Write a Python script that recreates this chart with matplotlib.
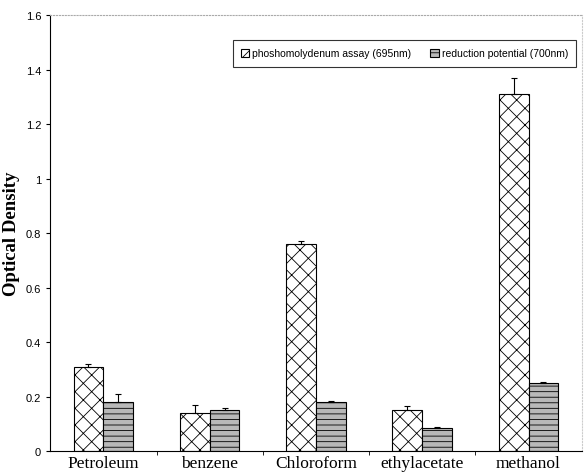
import matplotlib.pyplot as plt
import numpy as np

plt.rcParams['hatch.linewidth'] = 0.6

solvents = ['Petroleum', 'benzene', 'Chloroform', 'ethylacetate', 'methanol']
phospho = [0.31, 0.14, 0.76, 0.15, 1.31]
phospho_err = [0.01, 0.03, 0.01, 0.015, 0.06]
reduction = [0.18, 0.15, 0.18, 0.085, 0.25]
reduction_err = [0.03, 0.01, 0.005, 0.005, 0.005]
yticks = [0, 0.2, 0.4, 0.6, 0.8, 1, 1.2, 1.4, 1.6]

fig = plt.figure(figsize=(5.84, 4.77), dpi=100)
ax = fig.add_axes([0.086, 0.052, 0.91, 0.914])

x = np.arange(len(solvents))
w = 0.28
zeros = np.zeros(len(solvents))
ax.bar(x - w/2, phospho, w, color='white', edgecolor='black', hatch='xx', lw=0.8,
       yerr=[zeros, phospho_err], capsize=2, error_kw=dict(lw=0.8, capthick=0.8),
       label='phoshomolydenum assay (695nm)')
ax.bar(x + w/2, reduction, w, color='#b8b8b8', edgecolor='black', hatch='---', lw=0.8,
       yerr=[zeros, reduction_err], capsize=2, error_kw=dict(lw=0.8, capthick=0.8),
       label='reduction potential (700nm)')

ax.set_xlim(-0.5, 4.5)
ax.set_ylim(0, 1.6)
ax.set_yticks(yticks)
ax.set_yticklabels(['%g' % v for v in yticks], fontsize=8, family='Liberation Sans')
ax.set_xticks(x)
ax.set_xticklabels(solvents, fontsize=12.5, family='Liberation Serif')
ax.set_xticks(np.arange(0.5, 4.5, 1), minor=True)
ax.tick_params(axis='x', which='major', length=0, pad=3)
ax.tick_params(axis='x', which='minor', length=3)
ax.tick_params(axis='y', length=3)
ax.set_ylabel('Optical Density', fontsize=13.5, family='Liberation Serif', fontweight='bold')

ax.spines['top'].set_color('#aaaaaa')
ax.spines['top'].set_linestyle(':')
ax.spines['right'].set_color('#cccccc')
ax.spines['right'].set_linestyle(':')

leg = ax.legend(ncol=2, loc='upper right', bbox_to_anchor=(1.0, 0.955),
                prop={'family': 'Liberation Sans', 'size': 7.5}, frameon=True,
                fancybox=False, edgecolor='black', handlelength=0.8, handleheight=0.8,
                columnspacing=1.8, handletextpad=0.3, borderpad=0.8)
leg.get_frame().set_linewidth(0.8)

fig.savefig('out.png', dpi=100)
